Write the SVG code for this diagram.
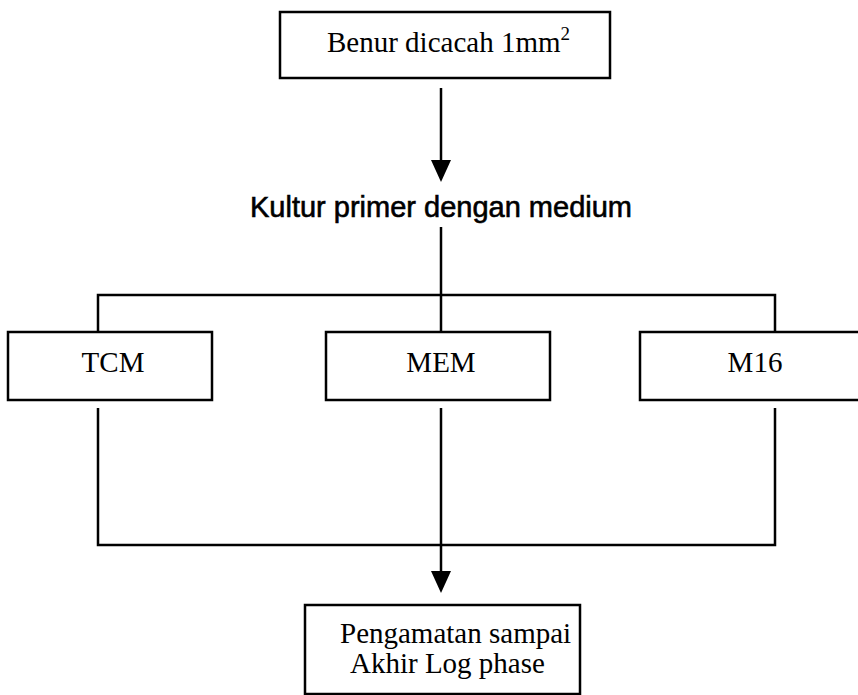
<svg xmlns="http://www.w3.org/2000/svg" width="858" height="695" viewBox="0 0 858 695">
<style>
.box{fill:#fff;stroke:#000;stroke-width:2.5}
.ln{fill:none;stroke:#000;stroke-width:2.5}
.ah{fill:#000}
.t{font-family:"Liberation Serif","Times New Roman",serif;font-size:29px;fill:#000}
.s{font-family:"Liberation Sans",Arial,sans-serif;font-size:29px;fill:#000;stroke:#000;stroke-width:0.6}
</style>
<g id="connectors">
<line class="ln" x1="441" y1="88" x2="441" y2="160"/>
<path class="ah" d="M431,160 L451,160 L441,182 Z"/>
<polyline class="ln" points="441,227 441,342"/>
<polyline class="ln" points="98,342 98,295 775,295 775,342"/>
<polyline class="ln" points="98,408 98,545 775,545 775,408"/>
<line class="ln" x1="441" y1="408" x2="441" y2="572"/>
<path class="ah" d="M431,571 L451,571 L441,593 Z"/>
</g>
<g id="n1">
<rect class="box" x="280" y="12" width="330" height="66"/>
<text class="t" x="327" y="52">Benur dicacah 1mm<tspan font-size="19" dy="-12">2</tspan></text>
</g>
<g id="n2">
<text class="s" x="441" y="217" text-anchor="middle">Kultur primer dengan medium</text>
</g>
<g id="n3">
<rect class="box" x="8" y="332" width="204" height="68"/>
<text class="t" x="113" y="372" text-anchor="middle">TCM</text>
</g>
<g id="n4">
<rect class="box" x="326" y="332" width="224" height="68"/>
<text class="t" x="441" y="372" text-anchor="middle">MEM</text>
</g>
<g id="n5">
<rect class="box" x="640" y="332" width="230" height="68"/>
<text class="t" x="755" y="372" text-anchor="middle">M16</text>
</g>
<g id="n6">
<rect class="box" x="305" y="605" width="275" height="89"/>
<text class="t" x="340" y="643">Pengamatan sampai</text>
<text class="t" x="350" y="673">Akhir Log phase</text>
</g>
</svg>
